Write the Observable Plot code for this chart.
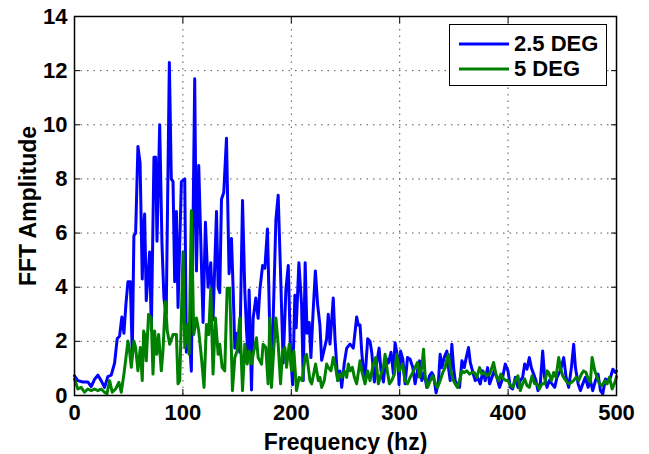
<!DOCTYPE html>
<html>
<head>
<meta charset="utf-8">
<script src="https://cdn.jsdelivr.net/npm/d3@7"></script>
<script src="https://cdn.jsdelivr.net/npm/@observablehq/plot@0.6"></script>
<style>
  html, body { margin: 0; padding: 0; background: #fff; }
  #wrap { position: relative; width: 649px; height: 454px; font-family: "Liberation Sans", Arial, Helvetica, sans-serif; }
  #legend { position: absolute; left: 449px; top: 24px; width: 158px; height: 62px; border: 1.5px solid #000; background: #fff; box-sizing: border-box; }
  .row { position: absolute; left: 0; height: 24px; display: flex; align-items: center; }
  .row svg { margin-left: 9px; }
  .row span { margin-left: 5px; font-weight: bold; font-size: 22px; color: #000; }
</style>
</head>
<body>
<div id="wrap"><div id="chart"></div><div id="legend"></div></div>
<script>
// ---- data ----
const seriesNames = ["2.5 DEG", "5 DEG"];
const seriesColors = ["#0000ff", "#008000"];
const xTicks = [0, 100, 200, 300, 400, 500];
const yTicks = [0, 2, 4, 6, 8, 10, 12, 14];
const xLabel = ["Frequency (hz)"];
const yLabel = ["FFT Amplitude"];

const blueFreq = [0,3,7.7,12.3,15.4,18.5,21.6,24.6,27.7,30.8,33.9,37,39.4,41.6,43.7,45.6,47.5,49.3,51.5,53.3,54.8,56.4,58.5,60.5,62.5,63.8,64.7,66.2,69.3,70.9,73.3,74.9,76.1,78.6,80.7,82.5,84.6,87.5,89.3,90.9,92.4,94,95.5,98.6,101.7,103.2,105.5,107.8,110.9,112.5,114.6,116.5,118.6,120.8,123.2,125.7,127.8,131,132.5,134,135.6,137.7,140.2,142.6,144.8,146.3,147.9,150,152.5,155,157.1,158.7,160.2,161.1,163.3,164.8,167.3,169.4,171,173.5,175.6,178,180.2,181.8,183.3,185.8,187.9,190.1,192.5,195,197.2,199.3,201.2,203.3,204.5,207,209.5,211,212.8,214.5,216.5,218.1,220,222.2,224.3,226.4,228,230.4,232.6,234.1,235.7,238.7,240.3,242.8,244.9,246.5,248.9,251.1,254.2,257.2,260.3,261.8,263.4,265,266.5,268,270.5,272.6,274.2,276.6,278.8,281,282.8,285,287.1,289.6,292,294.2,295.7,298.2,299.4,300.8,302.9,305,307.2,309.6,312.1,314.2,316.4,318.3,320.4,322.6,325,327.5,329.6,331.2,333.6,335.8,337.3,338.9,341,343.5,345,346.6,348.1,349.7,351.2,352.7,355.2,357.4,359.5,361.4,363.5,365.1,367.5,369.7,371.8,374.3,376.8,378.9,381.1,382.9,385.1,387.2,389.6,392.1,394.3,397.4,399.9,402.1,404.2,406.7,409.1,411.2,413.4,415.3,417.4,419.6,421.4,423.6,425.7,427.6,429.7,431.9,433.7,435.9,438,440.5,443,445.1,448.2,451.3,453.5,455.9,458.4,460.5,462.1,464.6,466.7,468.9,471.3,473.8,475.9,478.1,480.6,483,485.2,487.3,489.8,492.3,494.5,496.6,499.1,500];
const blueAmp = [0.73,0.55,0.5,0.5,0.33,0.6,0.75,0.55,0.3,0.7,0.75,1.2,2.1,2.2,2.9,2.3,3.4,4.2,4.2,1.5,5.9,6.0,9.2,8.6,4.3,6.2,6.7,3.5,5.3,2.4,8.8,8.8,5.7,10.0,5.6,3.6,3.0,12.3,8.0,7.9,4.2,6.8,3.25,7.9,8.0,1.6,2.5,0.9,11.7,4.6,8.5,5.7,2.7,6.4,4.0,4.9,2.8,6.8,4.0,3.8,7.25,7.5,9.5,4.5,5.8,4.0,1.75,2.3,1.6,7.2,3.9,2.4,1.4,3.9,0.2,2.85,3.6,2.85,3.9,4.8,4.7,6.15,2.3,1.3,2.85,6.5,7.4,4.5,1.2,3.9,4.8,1.6,0.4,3.7,2.5,4.9,3.35,0.55,4.9,2.3,2.7,1.4,3.0,4.6,3.35,2.6,1.3,1.7,2.1,3.0,1.9,3.6,2.1,0.55,0.9,0.3,1.2,1.75,1.9,1.75,2.9,2.6,2.6,1.6,0.9,0.65,2.1,2.0,1.6,0.5,1.2,1.75,0.9,0.5,1.4,1.2,1.6,0.8,1.95,1.4,0.4,1.64,1.34,0.43,1.4,1.34,1.03,0.43,0.91,1.28,0.55,0.85,0.3,0.73,0.85,0.73,0.1,0.55,1.52,1.03,1.4,1.64,1.03,0.55,1.89,1.03,0.55,0.43,0.3,1.28,1.03,1.4,1.77,1.22,0.85,0.55,0.67,0.43,0.91,0.55,1.03,0.43,0.67,0.91,0.67,0.3,0.55,1.16,0.91,0.3,0.24,0.67,0.3,0.55,0.67,1.16,0.97,1.4,1.03,0.79,0.55,0.18,0.43,1.64,0.67,0.3,0.55,0.43,0.3,0.67,0.91,1.4,0.67,0.3,1.03,1.89,1.03,0.43,0.18,0.43,0.67,0.3,0.55,0.18,0.55,0.79,0.18,0.06,0.61,0.55,0.67,0.97,0.85,0.9];

const greenFreq = [0,3.1,6.2,9.2,12.3,15.4,18.5,21.6,24.6,27.7,29.9,32.4,34.8,37.9,41,43.1,45.6,47.1,49.3,50.8,52.4,54.8,56.4,58.5,60.7,62.5,63.8,64.7,66.2,68.3,70.8,72.4,73.9,75.8,77.6,80.1,81.6,83.8,85.6,87.8,90.9,94,95.5,97.1,100.1,101.7,104.2,105.7,107.8,110,112.5,114.6,117.1,119.5,121.7,123.8,125.7,127.8,130,132.5,134,136.2,138.6,140.8,143.2,145.7,147.9,150,152.5,155,157.1,159.3,161.1,163.3,165.4,167.9,169.4,172.5,174,176.5,178.6,180.2,181.7,183.9,185.8,187.9,190.1,191.9,194.1,195.6,198.1,200.2,202.4,204.8,207.3,210.1,212.6,214.1,215.7,217.2,218.8,221.2,222.4,224.9,226.4,228,230.4,232.6,234.1,236.6,238.7,240.3,242.8,244.9,246.5,248.9,251.1,252.6,254.2,256.3,258.2,260.3,263.4,265,268,270.5,272.6,275.7,277.9,280.3,282.8,285,286.5,289,290.5,292.6,295.1,297.3,299.5,302.6,305,307.2,309.6,312.1,314.2,316.4,318.3,320.4,322,323.5,325.7,328.2,330.6,332.8,334.9,337.3,339.8,341.9,343.5,345,346.6,349,351.2,353.3,355.2,357.4,359.5,362,364.4,366.6,368.8,371.2,373.7,375.8,378,380.4,382.9,385.1,386.6,389.1,391.2,393.4,395.9,398.3,399.9,402.1,404.2,406.7,409.1,411.2,413.4,415.3,417.4,419.6,422.1,424.5,426.7,428.8,431.3,433.7,435.9,437.4,439.9,442,444.2,446.7,448.2,450.4,452.2,454.4,456.5,458.4,460.5,462.7,465.1,467.6,469.7,471.9,473.8,475.9,477.5,480,482.1,484.3,486.8,489.2,491.4,493.5,496,499.1,500];
const greenAmp = [0.61,0.24,0.3,0.12,0.24,0.18,0.24,0.18,0.24,0.12,0.06,0.55,0.12,0.24,0.49,0.12,0.79,1.28,2.01,1.64,1.04,2.01,1.77,0.91,1.77,0.55,2.38,2.25,1.28,2.99,2.86,0.79,2.38,1.52,2.25,0.91,1.64,3.47,2.38,1.89,2.25,2.25,0.43,0.55,5.3,1.77,2.62,1.52,6.82,2.25,2.86,2.38,1.4,0.3,2.62,2.25,3.96,0.79,2.86,1.52,1.89,1.04,0.91,3.96,3.96,0.18,1.4,1.64,2.86,0.18,1.89,1.16,1.64,1.16,1.64,2.13,1.4,1.16,1.89,1.77,0.43,2.86,0.3,1.77,2.86,1.89,0.43,1.64,1.77,1.04,1.89,0.91,1.64,0.18,0.67,0.55,1.4,1.52,1.04,0.55,0.43,0.91,1.16,0.55,0.67,0.3,0.55,1.16,1.04,0.91,1.4,1.16,0.55,0.79,0.67,0.91,0.67,1.16,0.91,1.04,0.67,0.43,1.28,0.91,0.43,0.91,0.55,1.16,1.4,0.43,0.79,1.04,1.52,0.79,0.43,0.55,0.79,1.52,0.91,1.16,0.55,0.43,0.67,0.85,1.03,1.22,0.67,1.03,1.71,0.67,0.3,0.55,0.73,0.43,0.3,0.55,0.85,1.03,1.34,1.52,1.03,0.61,0.43,0.3,0.55,0.91,0.85,0.91,0.79,0.85,0.85,0.67,1.03,0.79,0.85,0.73,0.79,1.03,1.22,0.73,0.55,0.79,0.61,0.55,0.55,0.37,0.3,0.55,0.73,0.18,0.43,0.61,0.37,0.3,0.73,0.43,0.43,0.24,0.43,0.43,0.91,0.85,0.55,0.85,0.67,1.4,1.03,0.73,0.61,0.49,0.43,0.49,0.55,0.67,0.55,0.79,0.91,0.85,0.61,0.49,1.4,0.91,0.67,0.43,0.37,0.55,0.43,0.67,0.24,0.55,0.7];

const blue = blueFreq.map((f, i) => ({f, a: blueAmp[i]}));
const green = greenFreq.map((f, i) => ({f, a: greenAmp[i]}));

const gridStyle = {stroke: "#555", strokeWidth: 1, strokeDasharray: "1.5,5", strokeOpacity: 1};

const chart = Plot.plot({
  width: 649,
  height: 454,
  marginLeft: 74,
  marginRight: 33,
  marginTop: 16,
  marginBottom: 59,
  style: {fontFamily: "'Liberation Sans', Arial, Helvetica, sans-serif", fontSize: "22px", fontWeight: "bold", color: "#000", background: "#fff"},
  x: {domain: [0, 500]},
  y: {domain: [0, 14]},
  marks: [
    Plot.ruleX(xTicks.slice(1, -1), gridStyle),
    Plot.ruleY(yTicks.slice(1, -1), gridStyle),
    Plot.line(blue, {x: "f", y: "a", stroke: seriesColors[0], strokeWidth: 3, strokeLinejoin: "round"}),
    Plot.line(green, {x: "f", y: "a", stroke: seriesColors[1], strokeWidth: 3, strokeLinejoin: "round"}),
    Plot.frame({stroke: "#000", strokeWidth: 1.5}),
    Plot.axisX({anchor: "bottom", ticks: xTicks, tickSize: -6, tickPadding: 15, label: null, tickFormat: d => String(d)}),
    Plot.axisX({anchor: "top", ticks: xTicks, tickSize: -6, label: null, tickFormat: () => ""}),
    Plot.axisY({anchor: "left", ticks: yTicks, tickSize: -6, tickPadding: 13, label: null, tickFormat: d => String(d)}),
    Plot.axisY({anchor: "right", ticks: yTicks, tickSize: -6, label: null, tickFormat: () => ""}),
    Plot.text(xLabel, {frameAnchor: "bottom", text: d => d, dy: 47, fontSize: 23, fontWeight: "bold", fill: "#000", lineAnchor: "middle"}),
    Plot.text(yLabel, {frameAnchor: "left", text: d => d, rotate: -90, dx: -46, fontSize: 23, fontWeight: "bold", fill: "#000", textAnchor: "middle"})
  ]
});
document.getElementById("chart").appendChild(chart);

// legend
const legend = document.getElementById("legend");
seriesNames.forEach((name, i) => {
  const row = document.createElement("div");
  row.className = "row";
  row.style.top = (i === 0 ? 7 : 32) + "px";
  row.innerHTML = `<svg width="50" height="6"><line x1="0" y1="3" x2="50" y2="3" stroke="${seriesColors[i]}" stroke-width="3"/></svg><span>${name}</span>`;
  legend.appendChild(row);
});
</script>
</body>
</html>
